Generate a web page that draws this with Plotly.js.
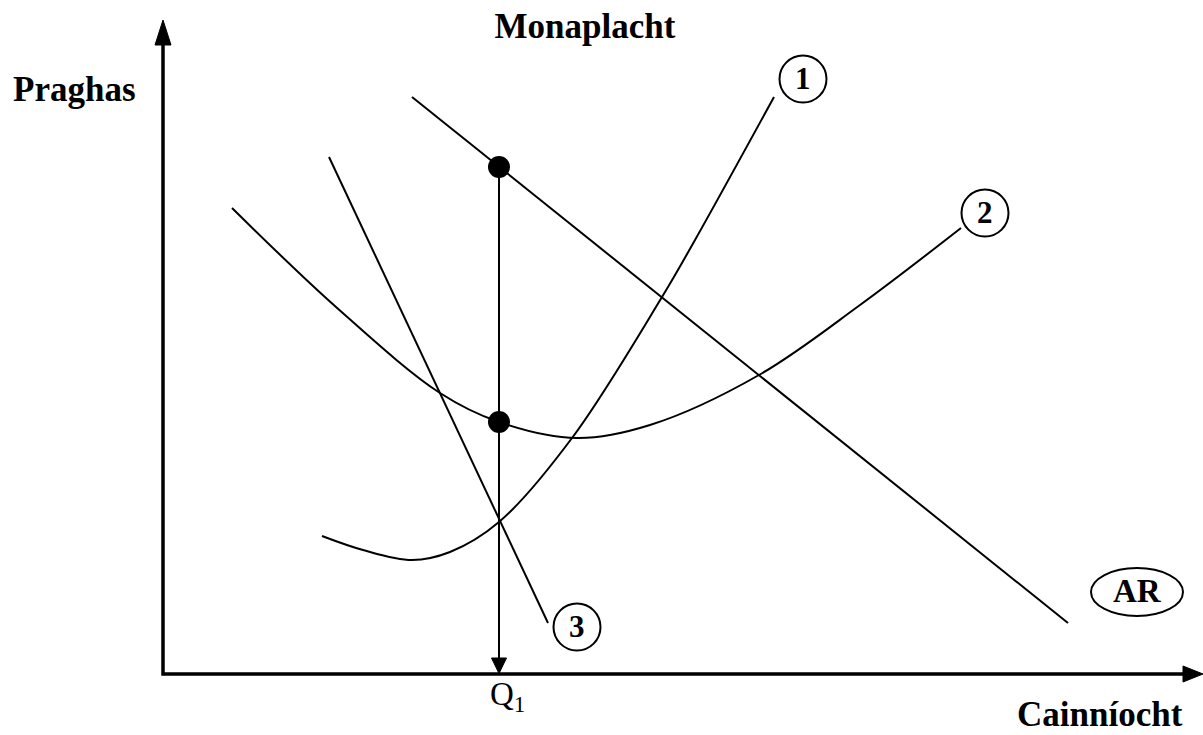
<!DOCTYPE html>
<html>
<head>
<meta charset="utf-8">
<script src="https://cdn.plot.ly/plotly-3.0.1.min.js"></script>
<style>html,body{margin:0;padding:0;background:#fff;}#chart{width:1203px;height:735px;}</style>
</head>
<body>
<div id="chart"></div>
<script>
// Quantity / price values (abstract units)
const qAR = [24.9, 90.5];
const pAR = [57.7, 5.1];

const qMR = [16.6, 38.5];
const pMR = [51.7, 5.1];

const qMC = [15.9, 20.0, 24.9, 28.7, 33.6, 40.9, 49.9, 53.2, 61.1];
const pMC = [13.8, 12.4, 11.4, 12.2, 15.2, 23.6, 37.7, 43.4, 57.7];

const qAC = [6.9, 17.3, 27.7, 33.6, 41.4, 48.7, 59.6, 69.7, 79.8];
const pAC = [46.6, 36.7, 28.1, 25.2, 23.6, 24.9, 29.9, 36.9, 44.6];

const qEq = [33.6, 33.6];
const pEq = [50.7, 25.2];

const labels = ["1", "2", "3", "AR"];
const titleText = "Monaplacht";
const yLabel = "Praghas";
const xLabel = "Cainníocht";
const qLabel = "Q<sub>1</sub>";

const FONT = "Liberation Serif, Times New Roman, serif";
const lineStyle = {color: "#000", width: 2};

const traces = [
  {x: qAR, y: pAR, mode: "lines", line: lineStyle},
  {x: qMR, y: pMR, mode: "lines", line: lineStyle},
  {x: qMC, y: pMC, mode: "lines", line: Object.assign({shape: "spline", smoothing: 1}, lineStyle)},
  {x: qAC, y: pAC, mode: "lines", line: Object.assign({shape: "spline", smoothing: 1}, lineStyle)},
  {x: [qEq[0], qEq[0]], y: [pEq[0], 1.5], mode: "lines", line: lineStyle},
  {x: qEq, y: pEq, mode: "markers", marker: {color: "#000", size: 22}}
];

const r = 2.35;
function circ(cx, cy, rx, ry) {
  return {type: "circle", xref: "x", yref: "y", x0: cx - rx, x1: cx + rx, y0: cy - ry, y1: cy + ry,
          line: {color: "#000", width: 2}, fillcolor: "rgba(0,0,0,0)"};
}
const labelPos = [[64.0, 59.5, r, r], [82.2, 46.1, r, r], [41.4, 4.7, r, r], [97.4, 8.2, 4.6, 2.4]];

const shapes = [
  {type: "path", xref: "x", yref: "y", path: "M 0 63.2 L 0 0 L 102.2 0", line: {color: "#000", width: 3.5}},
  {type: "path", xref: "x", yref: "y", path: "M 0 65.4 L -0.8 62.9 L 0.8 62.9 Z", fillcolor: "#000", line: {color: "#000", width: 1}},
  {type: "path", xref: "x", yref: "y", path: "M 104 0 L 102 0.8 L 102 -0.8 Z", fillcolor: "#000", line: {color: "#000", width: 1}},
  {type: "path", xref: "x", yref: "y", path: "M 33.6 0.05 L 32.85 1.6 L 34.35 1.6 Z", fillcolor: "#000", line: {color: "#000", width: 1}}
].concat(labelPos.map(p => circ(p[0], p[1], p[2], p[3])));

const annotations = labels.map((t, i) => ({
  x: labelPos[i][0], y: labelPos[i][1] + 0.1, xref: "x", yref: "y", text: "<b>" + t + "</b>",
  showarrow: false, xanchor: "center", yanchor: "middle",
  font: {family: FONT, size: i === 3 ? 33 : 31, color: "#000"}
})).concat([
  {x: -0.0646, y: 0.89, xref: "paper", yref: "paper", text: "<b>" + yLabel + "</b>", showarrow: false,
   xanchor: "center", yanchor: "middle", font: {family: FONT, size: 35, color: "#000"}},
  {x: 0.9028, y: -0.03, xref: "paper", yref: "paper", text: "<b>" + xLabel + "</b>", showarrow: false,
   xanchor: "center", yanchor: "middle", font: {family: FONT, size: 35, color: "#000"}},
  {x: 34.4, y: -0.004, xref: "x", yref: "paper", text: qLabel, showarrow: false,
   xanchor: "center", yanchor: "middle", font: {family: FONT, size: 33, color: "#000"}}
]);

const layout = {
  width: 1203, height: 735,
  margin: {l: 143, r: 0, t: 15, b: 41, pad: 0},
  paper_bgcolor: "#fff", plot_bgcolor: "#fff",
  showlegend: false, hovermode: false,
  title: {text: "<b>" + titleText + "</b>", x: 585 / 1203, xref: "container", xanchor: "center",
          y: 1 - 26 / 735, yref: "container", yanchor: "middle",
          font: {family: FONT, size: 35, color: "#000"}},
  xaxis: {range: [-2, 104], visible: false, fixedrange: true},
  yaxis: {range: [-2, 65.9], visible: false, fixedrange: true},
  shapes: shapes,
  annotations: annotations
};

Plotly.newPlot("chart", traces, layout, {staticPlot: true, displayModeBar: false});
</script>
</body>
</html>
